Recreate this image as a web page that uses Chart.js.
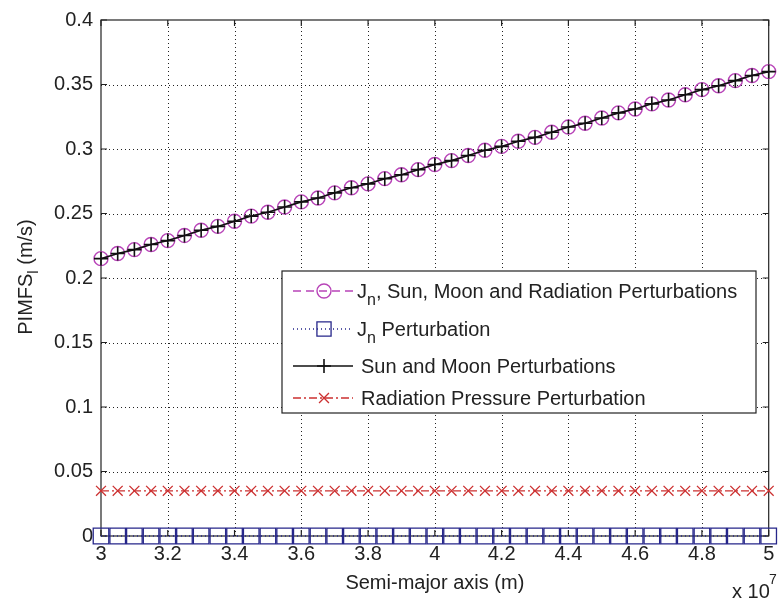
<!DOCTYPE html>
<html>
<head>
<meta charset="utf-8">
<script src="https://cdn.jsdelivr.net/npm/chart.js@4/dist/chart.umd.min.js"></script>
<style>
html,body{margin:0;padding:0;background:#fff;}
canvas{display:block;}
</style>
</head>
<body>
<canvas id="c" width="781" height="604"></canvas>
<script>
// Semi-major axis in units of 1e7 m
const semiMajorAxis = [3.00,3.05,3.10,3.15,3.20,3.25,3.30,3.35,3.40,3.45,3.50,3.55,3.60,3.65,3.70,3.75,3.80,3.85,3.90,3.95,4.00,4.05,4.10,4.15,4.20,4.25,4.30,4.35,4.40,4.45,4.50,4.55,4.60,4.65,4.70,4.75,4.80,4.85,4.90,4.95,5.00];
const allPerturbations = [0.215,0.219,0.222,0.226,0.229,0.233,0.237,0.240,0.244,0.248,0.251,0.255,0.259,0.262,0.266,0.270,0.273,0.277,0.280,0.284,0.288,0.291,0.295,0.299,0.302,0.306,0.309,0.313,0.317,0.320,0.324,0.328,0.331,0.335,0.338,0.342,0.346,0.349,0.353,0.357,0.360];
const jnPerturbation = [0,0,0,0,0,0,0,0,0,0,0,0,0,0,0,0,0,0,0,0,0,0,0,0,0,0,0,0,0,0,0,0,0,0,0,0,0,0,0,0,0];
const sunMoonPerturbations = [0.215,0.219,0.222,0.226,0.229,0.233,0.237,0.240,0.244,0.248,0.251,0.255,0.259,0.262,0.266,0.270,0.273,0.277,0.280,0.284,0.288,0.291,0.295,0.299,0.302,0.306,0.309,0.313,0.317,0.320,0.324,0.328,0.331,0.335,0.338,0.342,0.346,0.349,0.353,0.357,0.360];
const radiationPressure = [0.035,0.035,0.035,0.035,0.035,0.035,0.035,0.035,0.035,0.035,0.035,0.035,0.035,0.035,0.035,0.035,0.035,0.035,0.035,0.035,0.035,0.035,0.035,0.035,0.035,0.035,0.035,0.035,0.035,0.035,0.035,0.035,0.035,0.035,0.035,0.035,0.035,0.035,0.035,0.035,0.035];
const xTickLabels = ["3","3.2","3.4","3.6","3.8","4","4.2","4.4","4.6","4.8","5"];
const yTickLabels = ["0","0.05","0.1","0.15","0.2","0.25","0.3","0.35","0.4"];
const seriesNames = ["Jn, Sun, Moon and Radiation Perturbations","Jn Perturbation","Sun and Moon Perturbations","Radiation Pressure Perturbation"];

const FONT = "'Liberation Sans', Arial, sans-serif";
const MAG = '#b844b8', BLUE = '#26268a', BLK = '#111111', RED = '#cc3030';

function pts(ys){ return ys.map((y,i)=>({x:semiMajorAxis[i], y:y})); }

const styles = [
  {color:MAG, dash:[8,5], point:'circle', r:7, lr:7, bw:1.4, order:1},
  {color:BLUE, dash:[1,3], point:'rect', r:11, lr:10, bw:1.3, order:3},
  {color:BLK, dash:[], point:'cross', r:7, lr:7, bw:1.6, order:0},
  {color:RED, dash:[8,3,2,3], point:'crossRot', r:7, lr:7, bw:1.3, order:2}
];
const seriesData = [allPerturbations, jnPerturbation, sunMoonPerturbations, radiationPressure];

const datasets = seriesData.map((d,i)=>({
  label: seriesNames[i],
  data: pts(d),
  borderColor: styles[i].color,
  backgroundColor: 'transparent',
  borderWidth: styles[i].bw,
  borderDash: styles[i].dash,
  pointStyle: styles[i].point,
  pointRadius: styles[i].r,
  pointBorderColor: styles[i].color,
  pointBackgroundColor: 'transparent',
  pointBorderWidth: styles[i].bw,
  tension: 0,
  clip: false,
  order: styles[i].order
}));

const decor = {
  id:'decor',
  beforeDatasetsDraw(chart){
    const ctx = chart.ctx, a = chart.chartArea;
    const xs = chart.scales.x, ys = chart.scales.y;
    ctx.save();
    // dotted grid
    ctx.strokeStyle = '#222';
    ctx.lineWidth = 1;
    ctx.setLineDash([1,3]);
    ctx.beginPath();
    xs.ticks.forEach(t=>{
      const px = Math.round(xs.getPixelForValue(t.value)) + 0.5;
      if (px > a.left + 2 && px < a.right - 2) { ctx.moveTo(px, a.bottom); ctx.lineTo(px, a.top); }
    });
    ys.ticks.forEach(t=>{
      const py = Math.round(ys.getPixelForValue(t.value)) + 0.5;
      if (py > a.top + 2 && py < a.bottom - 2) { ctx.moveTo(a.left, py); ctx.lineTo(a.right, py); }
    });
    ctx.stroke();
    // box
    ctx.setLineDash([]);
    ctx.strokeStyle = '#222';
    ctx.lineWidth = 1.2;
    ctx.strokeRect(a.left, a.top, a.right-a.left, a.bottom-a.top);
    const tl = 6;
    ctx.beginPath();
    xs.ticks.forEach(t=>{
      const px = xs.getPixelForValue(t.value);
      ctx.moveTo(px, a.bottom); ctx.lineTo(px, a.bottom - tl);
      ctx.moveTo(px, a.top); ctx.lineTo(px, a.top + tl);
    });
    ys.ticks.forEach(t=>{
      const py = ys.getPixelForValue(t.value);
      ctx.moveTo(a.left, py); ctx.lineTo(a.left + tl, py);
      ctx.moveTo(a.right, py); ctx.lineTo(a.right - tl, py);
    });
    ctx.stroke();
    ctx.restore();
  },
  afterDraw(chart){
    const ctx = chart.ctx, a = chart.chartArea;
    ctx.save();
    ctx.fillStyle = '#222';
    ctx.textBaseline = 'alphabetic';
    // x axis title
    ctx.font = '20px ' + FONT;
    ctx.textAlign = 'center';
    ctx.fillText('Semi-major axis (m)', (a.left + a.right)/2, 589);
    // exponent
    ctx.textAlign = 'left';
    ctx.font = '20px ' + FONT;
    ctx.fillText('x 10', 732, 598);
    ctx.font = '14px ' + FONT;
    ctx.fillText('7', 769, 584);
    // y axis title (rotated) with subscript
    ctx.save();
    ctx.translate(32, 277);
    ctx.rotate(-Math.PI/2);
    const p1 = 'PIMFS', p2 = 'l', p3 = ' (m/s)';
    ctx.font = '20px ' + FONT; const w1 = ctx.measureText(p1).width;
    ctx.font = '15px ' + FONT; const w2 = ctx.measureText(p2).width;
    ctx.font = '20px ' + FONT; const w3 = ctx.measureText(p3).width;
    let sx = -(w1 + w2 + w3)/2;
    ctx.textAlign = 'left';
    ctx.font = '20px ' + FONT; ctx.fillText(p1, sx, 0); sx += w1;
    ctx.font = '15px ' + FONT; ctx.fillText(p2, sx, 6); sx += w2;
    ctx.font = '20px ' + FONT; ctx.fillText(p3, sx, 0);
    ctx.restore();

    // legend
    const L = 282, T = 271, R = 756, B = 413;
    ctx.fillStyle = '#fff';
    ctx.fillRect(L, T, R-L, B-T);
    ctx.strokeStyle = '#222';
    ctx.lineWidth = 1.2;
    ctx.setLineDash([]);
    ctx.strokeRect(L, T, R-L, B-T);
    const rows = [291, 329, 366, 398];
    const lx0 = 293, lx1 = 353, mx = 324;
    rows.forEach((ry,i)=>{
      const s = styles[i];
      ctx.save();
      ctx.strokeStyle = s.color;
      ctx.fillStyle = 'rgba(0,0,0,0)';
      ctx.lineWidth = s.bw;
      ctx.setLineDash(s.dash);
      ctx.beginPath(); ctx.moveTo(lx0, ry); ctx.lineTo(lx1, ry); ctx.stroke();
      ctx.setLineDash([]);
      Chart.helpers.drawPoint(ctx, {pointStyle:s.point, radius:s.lr, rotation:0, borderWidth:s.bw}, mx, ry);
      ctx.restore();
      ctx.fillStyle = '#222';
      ctx.textAlign = 'left';
      const base = ry + 7;
      let tx = 357;
      if (i === 0 || i === 1) {
        ctx.font = '20px ' + FONT; ctx.fillText('J', tx, base); tx += ctx.measureText('J').width;
        ctx.font = '16px ' + FONT; ctx.fillText('n', tx, base + 7); tx += ctx.measureText('n').width;
        ctx.font = '20px ' + FONT;
        const rest = i === 0 ? ', Sun, Moon and Radiation Perturbations' : ' Perturbation';
        ctx.fillText(rest, tx, base);
      } else {
        ctx.font = '20px ' + FONT;
        ctx.fillText(seriesNames[i], 361, base);
      }
    });
    ctx.restore();
  }
};

new Chart(document.getElementById('c'), {
  type: 'line',
  data: { datasets: datasets },
  options: {
    responsive: false,
    animation: false,
    devicePixelRatio: 1,
    layout: { padding: { top: 15, right: 3, left: 0, bottom: 0 } },
    plugins: { legend: { display: false }, tooltip: { enabled: false } },
    scales: {
      x: {
        type: 'linear', min: 3, max: 5,
        afterFit(s){ s.height = 68; },
        ticks: {
          stepSize: 0.2, padding: 6, color: '#222', maxRotation: 0, autoSkip: false,
          font: { family: FONT, size: 20 },
          callback: (v, i) => xTickLabels[i]
        },
        grid: { display: false, drawTicks: false },
        border: { display: false }
      },
      y: {
        type: 'linear', min: 0, max: 0.4,
        afterFit(s){ s.width = 101; },
        ticks: {
          stepSize: 0.05, padding: 8, color: '#222', autoSkip: false,
          font: { family: FONT, size: 20 },
          callback: (v, i) => yTickLabels[i]
        },
        grid: { display: false, drawTicks: false },
        border: { display: false }
      }
    }
  },
  plugins: [decor]
});
</script>
</body>
</html>
